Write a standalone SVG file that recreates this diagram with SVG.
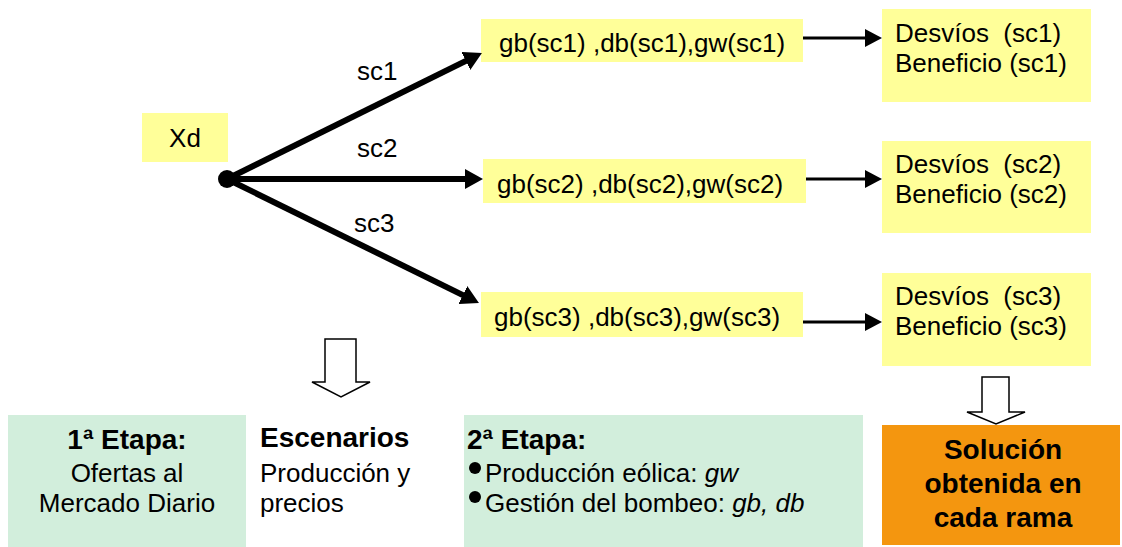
<svg xmlns="http://www.w3.org/2000/svg" width="1122" height="547" viewBox="0 0 1122 547">
  <defs>
    <style>
      text { font-family: "Liberation Sans", Arial, sans-serif; font-size: 26px; fill: #000; white-space: pre; }
      .b { font-weight: bold; font-size: 28px; }
      .i { font-style: italic; }
      .mid { text-anchor: middle; }
      .yellow { fill: #FFFF99; }
      .green { fill: #D2EEDC; }
      .orange { fill: #F4960F; }
      .thick { stroke: #000; stroke-width: 6; fill: none; }
      .thin { stroke: #000; stroke-width: 3; fill: none; }
      .hollow { fill: #fff; stroke: #000; stroke-width: 1.5; }
    </style>
    <marker id="headBig" markerUnits="userSpaceOnUse" markerWidth="18" markerHeight="20" refX="8" refY="10" orient="auto">
      <path d="M0,0 L18,10 L0,20 z" fill="#000"/>
    </marker>
    <marker id="headSmall" markerUnits="userSpaceOnUse" markerWidth="17" markerHeight="18" refX="5" refY="9" orient="auto">
      <path d="M0,0 L17,9 L0,18 z" fill="#000"/>
    </marker>
  </defs>

  <!-- root decision -->
  <g id="xd">
    <rect class="yellow" x="142" y="113" width="86" height="49"/>
    <text class="mid" x="185" y="147">Xd</text>
  </g>
  <g id="root-dot">
    <circle cx="227" cy="179" r="9" fill="#000"/>
  </g>

  <!-- second-stage decisions per scenario -->
  <g id="dec-sc1">
    <rect class="yellow" x="481" y="19" width="322" height="43"/>
    <text x="499" y="52">gb(sc1) ,db(sc1),gw(sc1)</text>
  </g>
  <g id="dec-sc2">
    <rect class="yellow" x="483" y="159" width="323" height="44"/>
    <text x="497" y="193">gb(sc2) ,db(sc2),gw(sc2)</text>
  </g>
  <g id="dec-sc3">
    <rect class="yellow" x="481" y="292" width="322" height="45"/>
    <text x="494" y="326">gb(sc3) ,db(sc3),gw(sc3)</text>
  </g>

  <!-- results per scenario -->
  <g id="res-sc1">
    <rect class="yellow" x="882" y="9" width="209" height="93"/>
    <text x="895" y="42">Desvíos  (sc1)</text>
    <text x="895" y="72">Beneficio (sc1)</text>
  </g>
  <g id="res-sc2">
    <rect class="yellow" x="882" y="141" width="209" height="92"/>
    <text x="895" y="173">Desvíos  (sc2)</text>
    <text x="895" y="203">Beneficio (sc2)</text>
  </g>
  <g id="res-sc3">
    <rect class="yellow" x="882" y="273" width="209" height="93"/>
    <text x="895" y="305">Desvíos  (sc3)</text>
    <text x="895" y="335">Beneficio (sc3)</text>
  </g>

  <!-- bottom legend -->
  <g id="stage1">
    <rect class="green" x="8" y="415" width="238" height="132"/>
    <text class="b mid" x="127" y="449">1ª Etapa:</text>
    <text class="mid" x="127" y="482">Ofertas al</text>
    <text class="mid" x="127" y="512">Mercado Diario</text>
  </g>
  <g id="scenarios">
    <text class="b" x="260" y="447">Escenarios</text>
    <text x="260" y="482">Producción y</text>
    <text x="260" y="512">precios</text>
  </g>
  <g id="stage2">
    <rect class="green" x="464" y="415" width="399" height="132"/>
    <text class="b" x="467" y="449">2ª Etapa:</text>
    <circle cx="475" cy="468" r="6" fill="#000"/>
    <text x="485" y="482">Producción eólica: <tspan class="i">gw</tspan></text>
    <circle cx="475" cy="497" r="6" fill="#000"/>
    <text x="485" y="512">Gestión del bombeo: <tspan class="i">gb, db</tspan></text>
  </g>
  <g id="solution">
    <rect class="orange" x="882" y="425" width="238" height="120"/>
    <text class="b mid" x="1003" y="459">Solución</text>
    <text class="b mid" x="1003" y="493">obtenida en</text>
    <text class="b mid" x="1003" y="527">cada rama</text>
  </g>

  <!-- connectors -->
  <g id="connectors">
    <line class="thick" x1="227" y1="179" x2="473" y2="57.4" marker-end="url(#headBig)"/>
    <line class="thick" x1="227" y1="179" x2="473" y2="179" marker-end="url(#headBig)"/>
    <line class="thick" x1="227" y1="179" x2="470" y2="298.6" marker-end="url(#headBig)"/>
    <text x="357" y="80">sc1</text>
    <text x="357" y="157">sc2</text>
    <text x="354" y="232">sc3</text>

    <line class="thin" x1="803" y1="38" x2="870" y2="38" marker-end="url(#headSmall)"/>
    <line class="thin" x1="806" y1="179" x2="870" y2="179" marker-end="url(#headSmall)"/>
    <line class="thin" x1="803" y1="322" x2="870" y2="322" marker-end="url(#headSmall)"/>

    <polygon class="hollow" points="325,339 356,339 356,382 370,382 341,397 312,382 325,382"/>
    <polygon class="hollow" points="982,377 1009,377 1009,412 1025,412 996,424 967,412 982,412"/>
  </g>
</svg>
